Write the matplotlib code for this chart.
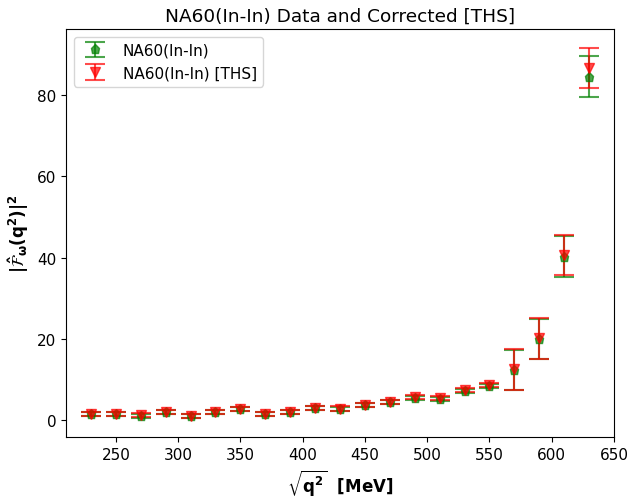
import matplotlib
matplotlib.use("Agg")
import matplotlib.pyplot as plt
import numpy as np

plt.rcParams['mathtext.default'] = 'bf'

sqrt_q2 = [230, 250, 270, 290, 310, 330, 350, 370, 390, 410, 430,
           450, 470, 490, 510, 530, 550, 570, 590, 610, 630]
ff_na60 = [1.5, 1.5, 1.1, 1.9, 0.9, 1.9, 2.7, 1.4, 2.0, 3.0, 2.8,
           3.6, 4.5, 5.5, 5.3, 7.2, 8.5, 12.3, 20.0, 40.2, 84.5]
err_na60 = [0.5, 0.5, 0.5, 0.5, 0.5, 0.5, 0.5, 0.5, 0.5, 0.5, 0.5,
            0.5, 0.5, 0.5, 0.5, 0.5, 0.5, 5.0, 5.0, 5.0, 5.0]
ff_ths = [1.55, 1.55, 1.15, 1.95, 0.95, 1.95, 2.75, 1.45, 2.05, 3.05, 2.85,
          3.65, 4.55, 5.6, 5.4, 7.3, 8.6, 12.5, 20.1, 40.6, 86.7]
err_ths = [0.5, 0.5, 0.5, 0.5, 0.5, 0.5, 0.5, 0.5, 0.5, 0.5, 0.5,
           0.5, 0.5, 0.5, 0.5, 0.5, 0.5, 5.0, 5.0, 5.0, 5.0]

fig = plt.figure(figsize=(6.28, 5.02), dpi=100)
ax = fig.add_axes([66/628, 1-438/502, (614-66)/628, (438-30)/502])

ax.errorbar(sqrt_q2, ff_na60, yerr=err_na60, fmt='p', color='green', alpha=0.7,
            markersize=6.5, capsize=7.5, elinewidth=1.5, capthick=1.5, label='NA60(In-In)')
ax.errorbar(sqrt_q2, ff_ths, yerr=err_ths, fmt='v', color='red', alpha=0.7,
            markersize=7.5, capsize=7.5, elinewidth=1.5, capthick=1.5, label='NA60(In-In) [THS]')

ax.set_title('NA60(In-In) Data and Corrected [THS]', fontsize=13.3)
ax.set_xlabel(r'$\sqrt{q^2}$  [MeV]', fontsize=12, fontweight='bold')
ax.set_ylabel(r'$|\hat{\mathcal{F}}_\omega(q^2)|^2$', fontsize=12, fontweight='bold')
ax.set_xticks([250, 300, 350, 400, 450, 500, 550, 600, 650])
ax.tick_params(labelsize=11)
ax.legend(loc='upper left', fontsize=11)

fig.savefig('out.png', dpi=100)
